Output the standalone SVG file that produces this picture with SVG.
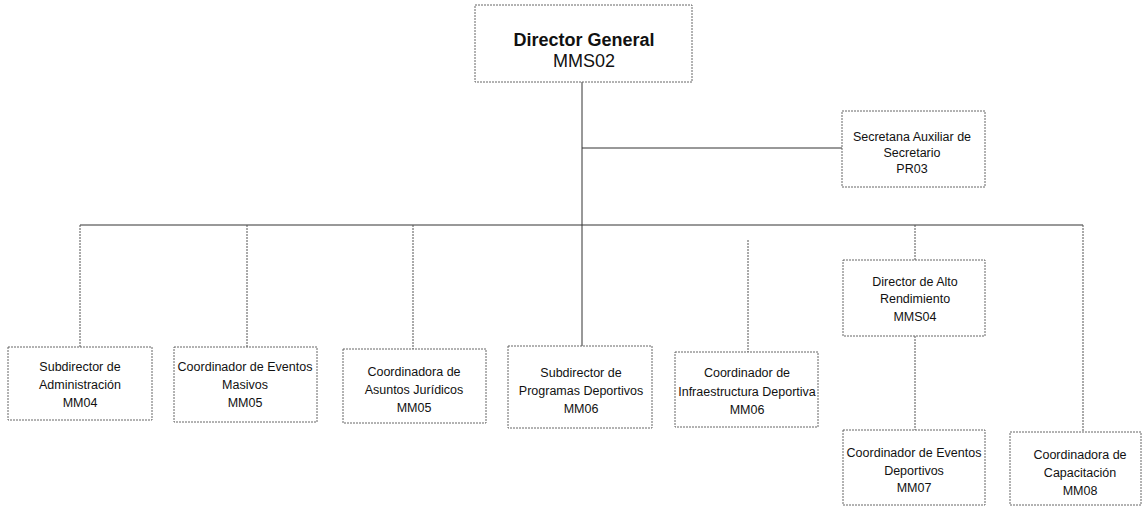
<svg xmlns="http://www.w3.org/2000/svg" width="1145" height="508" viewBox="0 0 1145 508">
<style>
  .box { fill: #ffffff; stroke: #666; stroke-width: 1; stroke-dasharray: 2 1; }
  .t { font-family: "Liberation Sans", Arial, sans-serif; font-size: 12.5px; fill: #111; text-anchor: middle; }
  .big { font-family: "Liberation Sans", Arial, sans-serif; font-size: 18px; fill: #111; text-anchor: middle; }
  .solid { stroke: #333; stroke-width: 1; fill: none; }
  .dot { stroke: #555; stroke-width: 1; fill: none; stroke-dasharray: 2 1; }
</style>
<rect width="1145" height="508" fill="#ffffff"/>
<g id="connectors">
  <line class="solid" x1="582" y1="82" x2="582" y2="346"/>
  <line class="solid" x1="582" y1="148" x2="842" y2="148"/>
  <line class="solid" x1="80" y1="225" x2="1083" y2="225"/>
  <line class="dot" x1="80" y1="225" x2="80" y2="347"/>
  <line class="dot" x1="247" y1="225" x2="247" y2="347"/>
  <line class="dot" x1="413" y1="225" x2="413" y2="349"/>
  <line class="dot" x1="748" y1="240" x2="748" y2="352"/>
  <line class="dot" x1="915" y1="225" x2="915" y2="260"/>
  <line class="dot" x1="915" y1="336" x2="915" y2="430"/>
  <line class="dot" x1="1083" y1="225" x2="1083" y2="432"/>
</g>
<g id="director-general">
  <rect class="box" x="475" y="5" width="217" height="77"/>
  <text class="big" x="584" y="46" font-weight="bold">Director General</text>
  <text class="big" x="584" y="67">MMS02</text>
</g>
<g id="secretaria">
  <rect class="box" x="842" y="111" width="143" height="76"/>
  <text class="t" x="912" y="141">Secretana Auxiliar de</text>
  <text class="t" x="912" y="157">Secretario</text>
  <text class="t" x="912" y="173">PR03</text>
</g>
<g id="subdirector-administracion">
  <rect class="box" x="8" y="347" width="144" height="73"/>
  <text class="t" x="80" y="371">Subdirector de</text>
  <text class="t" x="80" y="389">Administración</text>
  <text class="t" x="80" y="407">MM04</text>
</g>
<g id="coordinador-eventos-masivos">
  <rect class="box" x="174" y="347" width="143" height="75"/>
  <text class="t" x="245" y="371">Coordinador de Eventos</text>
  <text class="t" x="245" y="389">Masivos</text>
  <text class="t" x="245" y="407">MM05</text>
</g>
<g id="coordinadora-asuntos-juridicos">
  <rect class="box" x="343" y="349" width="143" height="74"/>
  <text class="t" x="414" y="376">Coordinadora de</text>
  <text class="t" x="414" y="394">Asuntos Jurídicos</text>
  <text class="t" x="414" y="412">MM05</text>
</g>
<g id="subdirector-programas-deportivos">
  <rect class="box" x="508" y="346" width="144" height="82"/>
  <text class="t" x="581" y="377">Subdirector de</text>
  <text class="t" x="581" y="395">Programas Deportivos</text>
  <text class="t" x="581" y="413">MM06</text>
</g>
<g id="coordinador-infraestructura-deportiva">
  <rect class="box" x="675" y="352" width="143" height="75"/>
  <text class="t" x="747" y="377">Coordinador de</text>
  <text class="t" x="747" y="396">Infraestructura Deportiva</text>
  <text class="t" x="747" y="414">MM06</text>
</g>
<g id="director-alto-rendimiento">
  <rect class="box" x="843" y="260" width="142" height="76"/>
  <text class="t" x="915" y="286">Director de Alto</text>
  <text class="t" x="915" y="303">Rendimiento</text>
  <text class="t" x="915" y="321">MMS04</text>
</g>
<g id="coordinador-eventos-deportivos">
  <rect class="box" x="843" y="430" width="142" height="75"/>
  <text class="t" x="914" y="457">Coordinador de Eventos</text>
  <text class="t" x="914" y="475">Deportivos</text>
  <text class="t" x="914" y="492">MM07</text>
</g>
<g id="coordinadora-capacitacion">
  <rect class="box" x="1010" y="432" width="131" height="73"/>
  <text class="t" x="1080" y="459">Coordinadora de</text>
  <text class="t" x="1080" y="477">Capacitación</text>
  <text class="t" x="1080" y="495">MM08</text>
</g>
</svg>
